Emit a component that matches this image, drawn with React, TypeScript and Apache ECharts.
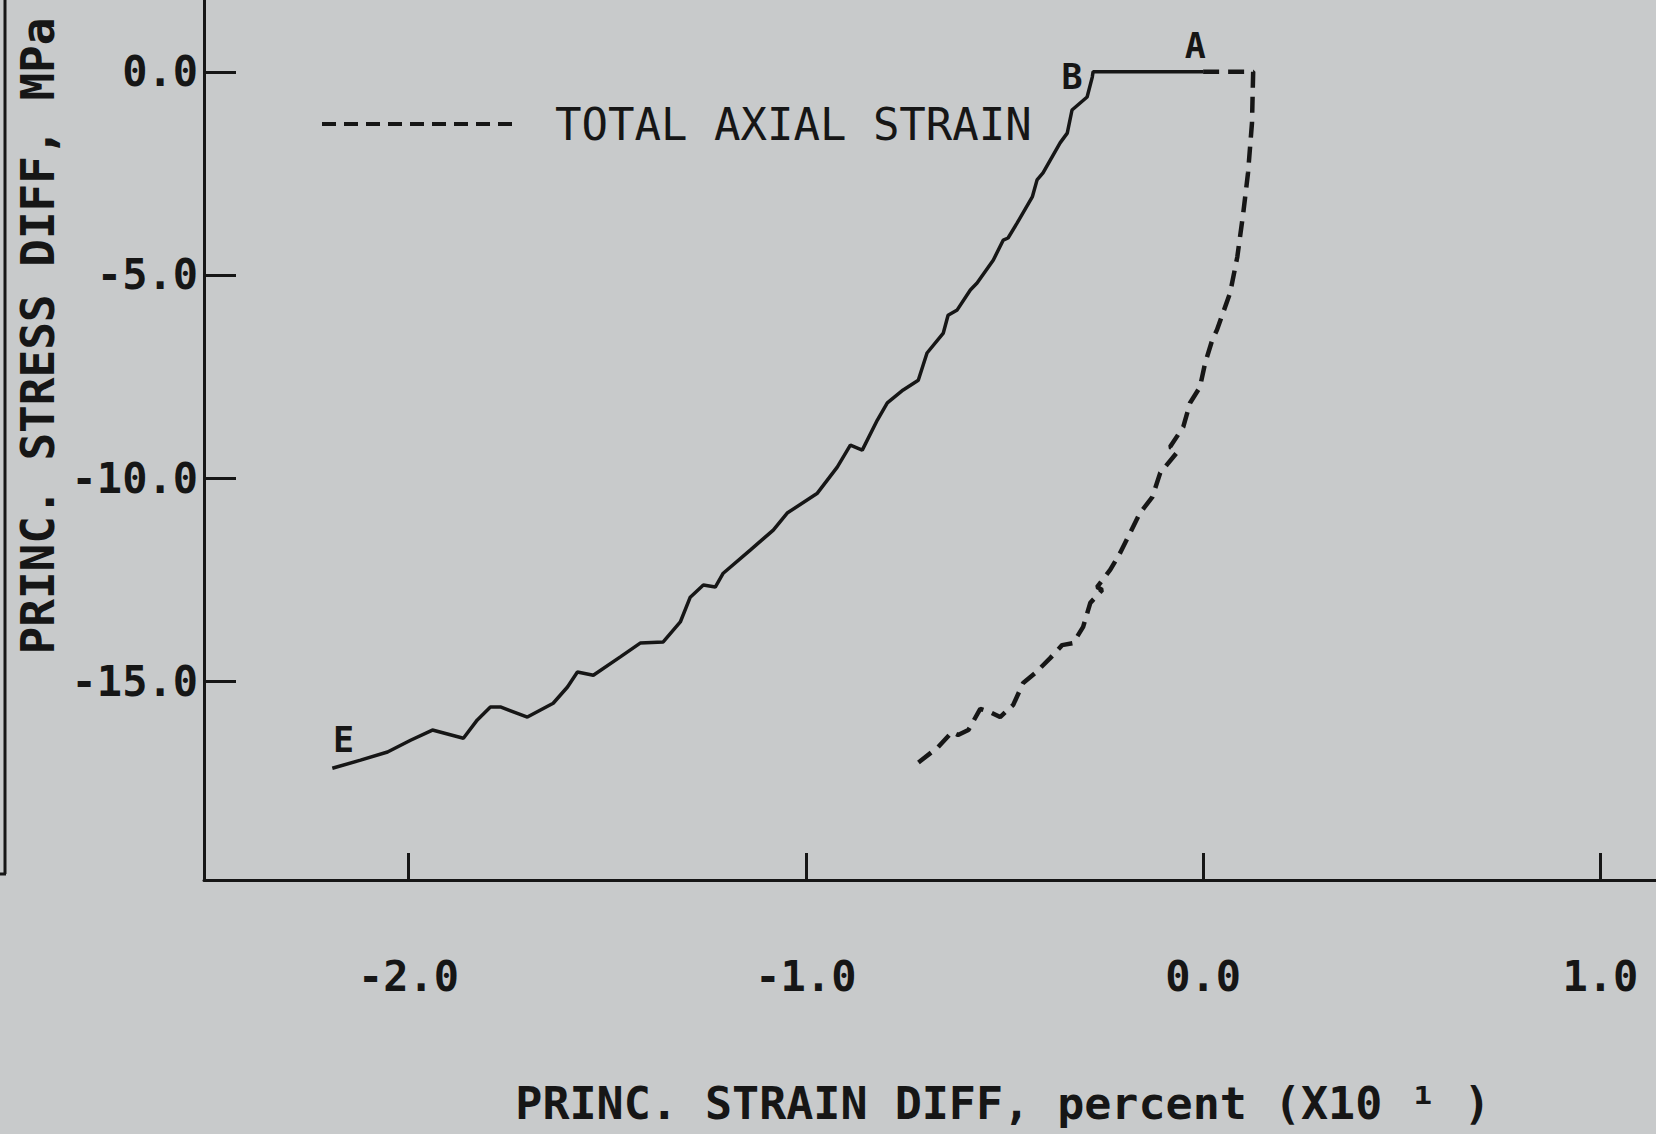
import React, { useEffect, useRef } from "react";
import * as echarts from "echarts";

// ---------- data ----------
const xTicks = [-2, -1, 0, 1];
const yTicks = [-15, -10, -5, 0];

// Principal strain difference curve (solid): A -> B -> E
const strainDiffX = [
  0, -0.277, -0.279, -0.292, -0.33, -0.342, -0.36, -0.403, -0.418, -0.43, -0.468, -0.491, -0.503,
  -0.528, -0.569, -0.586, -0.619, -0.642, -0.654, -0.695, -0.717, -0.755, -0.795, -0.82, -0.858,
  -0.888, -0.921, -0.971, -1.047, -1.082, -1.14, -1.208, -1.228, -1.258, -1.291, -1.316, -1.359,
  -1.417, -1.467, -1.535, -1.575, -1.6, -1.636, -1.701, -1.769, -1.794, -1.827, -1.862, -1.94,
  -1.995, -2.053, -2.121, -2.192,
];
const strainDiffStress = [
  0, 0, -0.13, -0.62, -0.94, -1.51, -1.75, -2.49, -2.66, -3.08, -3.72, -4.09, -4.14, -4.63, -5.2,
  -5.37, -5.86, -5.99, -6.43, -6.92, -7.59, -7.83, -8.15, -8.57, -9.31, -9.19, -9.73, -10.37,
  -10.86, -11.28, -11.77, -12.34, -12.68, -12.63, -12.93, -13.54, -14.03, -14.06, -14.4, -14.85,
  -14.77, -15.14, -15.54, -15.88, -15.63, -15.63, -15.95, -16.4, -16.2, -16.45, -16.74, -16.94,
  -17.14,
];

// Total axial strain curve (dashed)
const axialStrainX = [
  0, 0.126, 0.123, 0.113, 0.101, 0.086, 0.068, 0.035, 0.023, 0.005, -0.008, -0.033, -0.05, -0.083,
  -0.065, -0.108, -0.128, -0.159, -0.184, -0.209, -0.234, -0.267, -0.254, -0.284, -0.302, -0.327,
  -0.355, -0.385, -0.423, -0.453, -0.478, -0.511, -0.536, -0.561, -0.591, -0.617, -0.632, -0.667,
  -0.725,
];
const axialStress = [
  0, 0, -1.26, -2.49, -3.48, -4.56, -5.44, -6.35, -6.6, -7.17, -7.76, -8.15, -8.74, -9.23, -9.36,
  -9.87, -10.47, -10.86, -11.35, -11.84, -12.26, -12.68, -12.75, -13.07, -13.66, -14.06, -14.11,
  -14.43, -14.8, -15.04, -15.58, -15.88, -15.76, -15.68, -16.2, -16.32, -16.25, -16.62, -17.06,
];

// Point annotations
const annotationNames = ["A", "B", "E"];
const annotationX = [-0.02, -0.33, -2.164];
const annotationY = [0.635, -0.13, -16.45];

const legendName = "TOTAL AXIAL STRAIN";
const xTitle = "PRINC. STRAIN DIFF, percent (X10 \u00b9 )";
const yTitle = "PRINC. STRESS DIFF, MPa";

// ---------- styles ----------
const FONT = "'DejaVu Sans Mono', 'Liberation Mono', monospace";
const INK = "#161616";
const BG = "#c8cacb";

export default function App() {
  const ref = useRef<HTMLDivElement>(null);

  useEffect(() => {
    if (!ref.current) return;
    const chart = echarts.init(ref.current, null, { renderer: "svg" });

    const solidData = strainDiffX.map((x, i) => [x, strainDiffStress[i]]);
    const dashedData = axialStrainX.map((x, i) => [x, axialStress[i]]);
    const annData = annotationNames.map((n, i) => ({
      name: n,
      value: [annotationX[i], annotationY[i]],
    }));

    chart.setOption({
      animation: false,
      backgroundColor: BG,
      color: [INK, INK, INK],
      textStyle: { fontFamily: FONT, color: INK },
      grid: { left: 204, right: 0, top: 0, bottom: 254, containLabel: false },
      legend: {
        data: [legendName],
        left: 315,
        top: 97,
        itemWidth: 197,
        itemHeight: 20,
        selectedMode: false,
        itemStyle: { opacity: 0 },
        lineStyle: { color: INK, width: 4, type: [14, 8] },
        textStyle: {
          fontFamily: FONT,
          fontSize: 44,
          color: INK,
          padding: [0, 0, 0, 31],
        },
      },
      xAxis: {
        type: "value",
        min: -2.515,
        max: 1.14,
        name: xTitle,
        nameLocation: "middle",
        nameGap: 201,
        nameTextStyle: {
          fontFamily: FONT,
          fontSize: 45,
          fontWeight: "bold",
          color: INK,
          padding: [0, 0, 0, 146],
        },
        axisLine: { onZero: false, lineStyle: { color: INK, width: 3 } },
        axisTick: {
          inside: true,
          length: 27,
          customValues: xTicks,
          lineStyle: { color: INK, width: 3 },
        },
        axisLabel: {
          customValues: xTicks,
          margin: 75,
          fontFamily: FONT,
          fontSize: 42,
          fontWeight: "bold",
          color: INK,
          formatter: (v: number) => v.toFixed(1),
        },
        splitLine: { show: false },
      },
      yAxis: {
        type: "value",
        min: -19.89,
        max: 1.767,
        name: yTitle,
        nameLocation: "middle",
        nameGap: 126,
        nameRotate: 90,
        nameTextStyle: {
          fontFamily: FONT,
          fontSize: 46,
          fontWeight: "bold",
          color: INK,
          padding: [0, 0, 0, 208],
        },
        axisLine: { onZero: false, lineStyle: { color: INK, width: 3 } },
        axisTick: {
          inside: true,
          length: 32,
          customValues: yTicks,
          lineStyle: { color: INK, width: 3 },
        },
        axisLabel: {
          customValues: yTicks,
          margin: 6,
          fontFamily: FONT,
          fontSize: 42,
          fontWeight: "bold",
          color: INK,
          formatter: (v: number) => v.toFixed(1),
        },
        splitLine: { show: false },
      },
      series: [
        {
          name: "PRINC. STRAIN DIFF",
          type: "line",
          data: solidData,
          symbol: "none",
          clip: false,
          itemStyle: { color: INK },
          lineStyle: { color: INK, width: 3.5, type: "solid" },
        },
        {
          name: legendName,
          type: "line",
          data: dashedData,
          symbol: "none",
          clip: false,
          itemStyle: { color: INK },
          lineStyle: { color: INK, width: 4.5, type: [16, 9] },
        },
        {
          name: "annotations",
          type: "scatter",
          data: annData,
          symbolSize: 0,
          silent: true,
          itemStyle: { color: INK, opacity: 1 },
          label: {
            show: true,
            position: "inside",
            formatter: (p: any) => p.name,
            fontFamily: FONT,
            fontSize: 35,
            fontWeight: "bold",
            color: INK,
            opacity: 1,
            textBorderWidth: 0,
          },
        },
      ],
      graphic: [
        {
          type: "line",
          shape: { x1: 5, y1: 0, x2: 5, y2: 874 },
          style: { stroke: INK, lineWidth: 3 },
        },
        {
          type: "line",
          shape: { x1: 0, y1: 874, x2: 6, y2: 874 },
          style: { stroke: INK, lineWidth: 3 },
        },
      ],
    });

    return () => chart.dispose();
  }, []);

  return (
    <div
      ref={ref}
      style={{ position: "fixed", left: 0, top: 0, width: 1656, height: 1134 }}
    />
  );
}
